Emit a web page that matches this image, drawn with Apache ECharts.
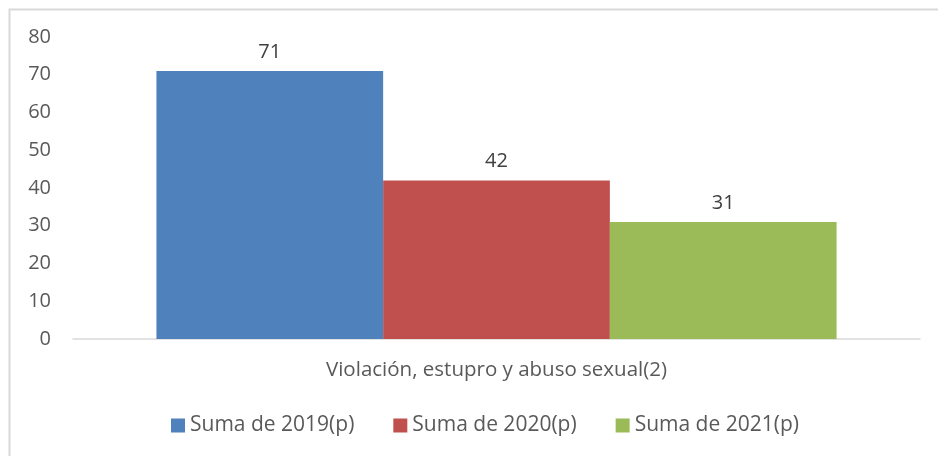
<!DOCTYPE html>
<html>
<head>
<meta charset="utf-8">
<script src="https://cdn.jsdelivr.net/npm/echarts@6/dist/echarts.min.js"></script>
<style>
  html, body { margin: 0; padding: 0; background: #fff; }
  #chart { width: 938px; height: 456px; }
</style>
</head>
<body>
<div id="chart"></div>
<script>
const categories = ['Violación, estupro y abuso sexual(2)']
const seriesNames = ['Suma de 2019(p)', 'Suma de 2020(p)', 'Suma de 2021(p)']
const values2019 = [71]
const values2020 = [42]
const values2021 = [31]
const colors = ['#4f81bd', '#c0504d', '#9bbb59']

const font = 'Open Sans, sans-serif'
const textColor = '#595959'

const myChart = echarts.init(document.getElementById('chart'))

const makeSeries = (name, data, color) => ({
  name: name,
  type: 'bar',
  data: data,
  barGap: '0%',
  barCategoryGap: '19.7%',
  itemStyle: { color: color },
  label: {
    show: true,
    position: 'top',
    distance: 9,
    color: '#404040',
    fontSize: 20,
    fontFamily: font
  }
})

const option = {
  animation: false,
  backgroundColor: '#fff',
  graphic: [{
    type: 'rect',
    shape: { x: 9.5, y: 9.5, width: 1000, height: 1000 },
    style: { fill: 'none', stroke: '#d9d9d9', lineWidth: 2 },
    silent: true
  }],
  grid: { left: 73, right: 18, top: 37, bottom: 117 },
  legend: {
    bottom: 15,
    left: 166,
    itemWidth: 14,
    itemHeight: 14,
    itemGap: 39,
    icon: 'rect',
    textStyle: { color: textColor, fontSize: 21, fontFamily: font },
    data: seriesNames
  },
  xAxis: {
    type: 'category',
    data: categories,
    axisLine: { lineStyle: { color: '#d9d9d9', width: 1.5 } },
    axisTick: { show: false },
    axisLabel: { color: textColor, fontSize: 20.5, fontFamily: font, margin: 21 }
  },
  yAxis: {
    type: 'value',
    min: 0,
    max: 80,
    interval: 10,
    splitLine: { show: false },
    axisLine: { show: false },
    axisTick: { show: false },
    axisLabel: { color: textColor, fontSize: 20, fontFamily: font, margin: 22 }
  },
  series: [
    makeSeries(seriesNames[0], values2019, colors[0]),
    makeSeries(seriesNames[1], values2020, colors[1]),
    makeSeries(seriesNames[2], values2021, colors[2])
  ]
}
myChart.setOption(option)
</script>
</body>
</html>
